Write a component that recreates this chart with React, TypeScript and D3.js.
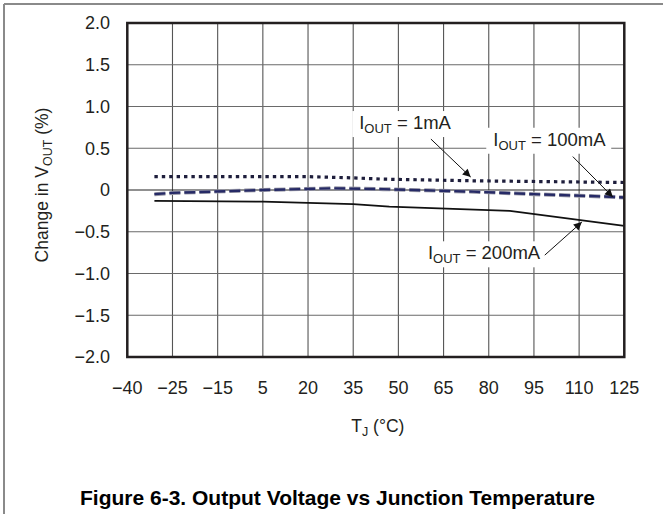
import React, { useEffect, useRef } from "react";
import * as d3 from "d3";

// ---- data ----
const xTickValues = [-40, -25, -15, 5, 20, 35, 50, 65, 80, 95, 110, 125];
const yTickValues = [2.0, 1.5, 1.0, 0.5, 0, -0.5, -1.0, -1.5, -2.0];
const yTickLabels = ["2.0", "1.5", "1.0", "0.5", "0", "\u22120.5", "\u22121.0", "\u22121.5", "\u22122.0"];
const xTickLabels = ["\u221240", "\u221225", "\u221215", "5", "20", "35", "50", "65", "80", "95", "110", "125"];

const series1mA: [number, number][] = [
  [-31, 0.16], [20, 0.16], [35, 0.145], [45, 0.13], [75, 0.11], [125, 0.09],
];
const series100mA: [number, number][] = [
  [-31, -0.05], [-25, -0.035], [5, 0], [28, 0.02], [45, 0.01], [75, -0.02], [95, -0.05], [120, -0.08], [125, -0.09],
];
const series200mA: [number, number][] = [
  [-31, -0.13], [5, -0.14], [35, -0.17], [47, -0.2], [87, -0.25], [125, -0.43],
];

// annotations in data coordinates: text anchor, arrow start, arrow end
const annLabels = ["1mA", "100mA", "200mA"];
const annText: [number, number][] = [[37, 0.73], [81.5, 0.53], [59.8, -0.83]];
const annFrom: [number, number][] = [[60.8, 0.61], [107.9, 0.4], [98.6, -0.78]];
const annTo: [number, number][] = [[74, 0.155], [121.2, -0.084], [110.9, -0.384]];

const FONT = "'Liberation Sans', Arial, Helvetica, sans-serif";

export default function App() {
  const ref = useRef<SVGSVGElement>(null);

  useEffect(() => {
    const svg = d3.select(ref.current);
    svg.selectAll("*").remove();

    const left = 127.3, right = 624.3, top = 23, bottom = 357;
    const step = (right - left) / (xTickValues.length - 1);
    const x = d3.scaleLinear()
      .domain(xTickValues)
      .range(xTickValues.map((_, i) => left + i * step));
    const y = d3.scaleLinear().domain([-2, 2]).range([bottom, top]);

    // page frame
    svg.append("line").attr("x1", 4).attr("x2", 663).attr("y1", 4).attr("y2", 4)
      .attr("stroke", "#8a8a8a").attr("stroke-width", 2);
    svg.append("line").attr("x1", 4).attr("x2", 4).attr("y1", 4).attr("y2", 514)
      .attr("stroke", "#8a8a8a").attr("stroke-width", 2);

    // gridlines
    const g = svg.append("g");
    g.selectAll("line.v").data(xTickValues).join("line")
      .attr("x1", (d) => x(d)).attr("x2", (d) => x(d))
      .attr("y1", top).attr("y2", bottom)
      .attr("stroke", "#555").attr("stroke-width", 1.1);
    g.selectAll("line.h").data(yTickValues).join("line")
      .attr("x1", left).attr("x2", right)
      .attr("y1", (d) => y(d)).attr("y2", (d) => y(d))
      .attr("stroke", (d) => (d === 0 ? "#222" : "#6a6a6a")).attr("stroke-width", 1.1);

    // annotation boxes + text (boxes hide gridlines)
    const annG = svg.append("g");
    annLabels.forEach((lab, i) => {
      const tx = x(annText[i][0]);
      const ty = y(annText[i][1]);
      const rect = annG.append("rect").attr("fill", "#fff");
      const t = annG.append("text")
        .attr("x", tx).attr("y", ty)
        .attr("font-family", FONT).attr("font-size", 18.5).attr("fill", "#231f20");
      t.append("tspan").text("I");
      t.append("tspan").attr("font-size", 13).attr("dy", 4).text("OUT");
      t.append("tspan").attr("dy", -4).text(" = " + lab);
      const bb = (t.node() as SVGTextElement).getBBox();
      rect.attr("x", bb.x - 7).attr("y", bb.y - 1).attr("width", bb.width + 12).attr("height", bb.height + 2);
    });

    // curves
    const line = d3.line<[number, number]>().x((d) => x(d[0])).y((d) => y(d[1]));
    svg.append("path").attr("d", line(series200mA)).attr("fill", "none")
      .attr("stroke", "#111").attr("stroke-width", 1.8);
    svg.append("path").attr("d", line(series100mA)).attr("fill", "none")
      .attr("stroke", "#9a9aa8").attr("stroke-width", 4).attr("stroke-dasharray", "11,4");
    svg.append("path").attr("d", line(series100mA)).attr("fill", "none")
      .attr("stroke", "#262a66").attr("stroke-width", 2.4).attr("stroke-dasharray", "11,4");
    svg.append("path").attr("d", line(series1mA)).attr("fill", "none")
      .attr("stroke", "#1e1e3c").attr("stroke-width", 3.2).attr("stroke-dasharray", "3.4,4");

    // arrows
    const defs = svg.append("defs");
    defs.append("marker").attr("id", "arr").attr("viewBox", "0 0 10 10")
      .attr("refX", 10).attr("refY", 5).attr("markerWidth", 13).attr("markerHeight", 8)
      .attr("markerUnits", "userSpaceOnUse").attr("orient", "auto")
      .append("path").attr("d", "M0,0 L10,5 L0,10 z").attr("fill", "#111");
    annLabels.forEach((_, i) => {
      svg.append("line")
        .attr("x1", x(annFrom[i][0])).attr("y1", y(annFrom[i][1]))
        .attr("x2", x(annTo[i][0])).attr("y2", y(annTo[i][1]))
        .attr("stroke", "#111").attr("stroke-width", 1)
        .attr("marker-end", "url(#arr)");
    });

    // plot frame
    svg.append("rect").attr("x", left).attr("y", top)
      .attr("width", right - left).attr("height", bottom - top)
      .attr("fill", "none").attr("stroke", "#231f20").attr("stroke-width", 2.5);

    // tick labels
    svg.selectAll("text.yt").data(yTickValues).join("text")
      .attr("x", 110).attr("y", (d) => y(d)).attr("dy", "0.35em")
      .attr("text-anchor", "end").attr("font-family", FONT).attr("font-size", 18)
      .attr("fill", "#231f20").text((_, i) => yTickLabels[i]);
    svg.selectAll("text.xt").data(xTickValues).join("text")
      .attr("x", (d) => x(d)).attr("y", 394)
      .attr("text-anchor", "middle").attr("font-family", FONT).attr("font-size", 18)
      .attr("fill", "#231f20").text((_, i) => xTickLabels[i]);

    // axis titles
    const yt = svg.append("text")
      .attr("transform", "translate(48,185) rotate(-90)")
      .attr("text-anchor", "middle").attr("font-family", FONT).attr("font-size", 17.5)
      .attr("fill", "#231f20");
    yt.append("tspan").text("Change in V");
    yt.append("tspan").attr("font-size", 12.5).attr("dy", 4).text("OUT");
    yt.append("tspan").attr("dy", -4).text(" (%)");

    const xt = svg.append("text")
      .attr("x", (left + right) / 2 + 2).attr("y", 432)
      .attr("text-anchor", "middle").attr("font-family", FONT).attr("font-size", 17.5)
      .attr("fill", "#231f20");
    xt.append("tspan").text("T");
    xt.append("tspan").attr("font-size", 12.5).attr("dy", 4).text("J");
    xt.append("tspan").attr("dy", -4).text(" (\u00B0C)");

    // caption
    svg.append("text").attr("x", 337.5).attr("y", 505)
      .attr("text-anchor", "middle").attr("font-family", FONT).attr("font-size", 21)
      .attr("font-weight", "bold").attr("fill", "#000")
      .text("Figure 6-3. Output Voltage vs Junction Temperature");
  }, []);

  return (
    <svg
      ref={ref}
      width={663}
      height={514}
      style={{ position: "absolute", left: 0, top: 0, display: "block", background: "#fff" }}
    />
  );
}
